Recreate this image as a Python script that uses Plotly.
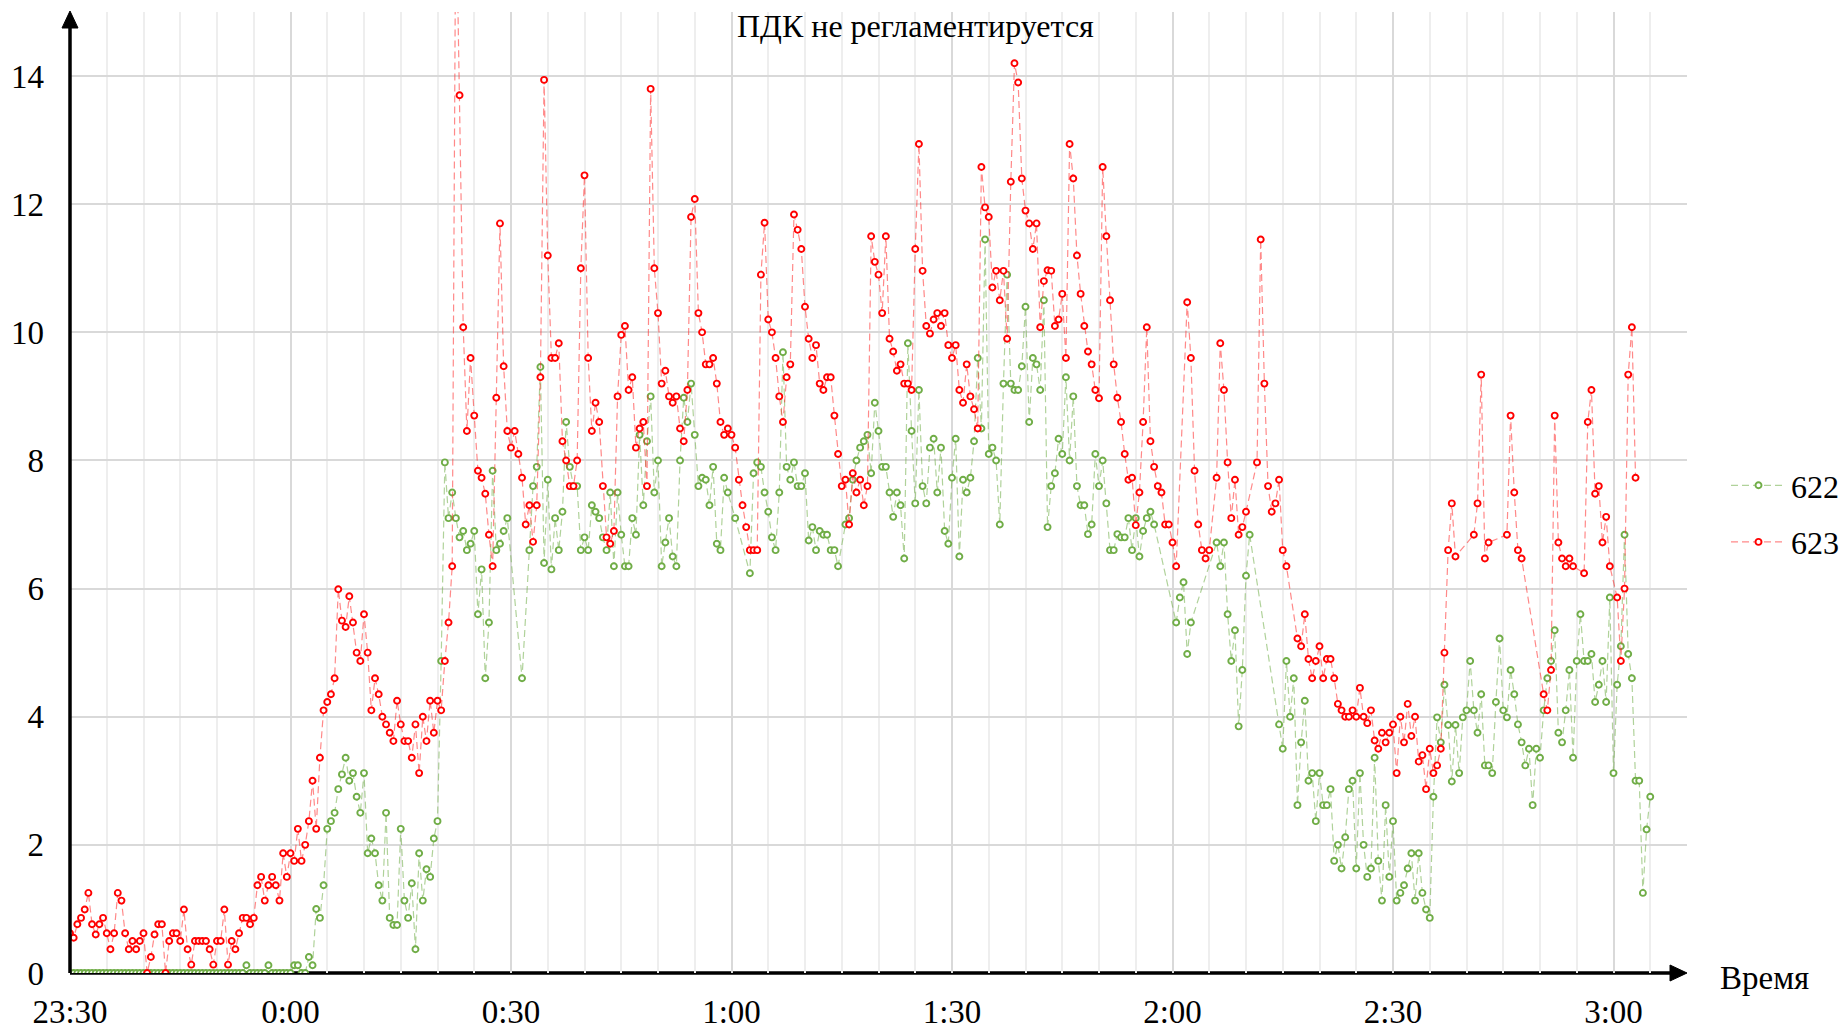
import datetime as dt
import plotly.graph_objects as go

# ---- data: readings every 30 s starting at 23:30 (None = no reading) ----
N = None
start_time = dt.datetime(2024, 1, 1, 23, 30)
step_minutes = 0.5

series_623 = [
    # 23:30
    0.62, 0.55, 0.76, 0.86, 0.99, 1.25, 0.76, 0.6, 0.76, 0.86,
    0.62, 0.37, 0.62, 1.25, 1.13, 0.62, 0.37, 0.5, 0.37, 0.5,
    0.62, 0.0, 0.25, 0.6, 0.76, 0.76, 0.0, 0.5, 0.62, 0.62,
    0.5, 0.99, 0.37, 0.13, 0.5, 0.5, 0.5, 0.5, 0.37, 0.13,
    0.5, 0.5, 0.99, 0.13, 0.5, 0.37, 0.62, 0.86, 0.86, 0.76,
    0.86, 1.37, 1.5, 1.13, 1.37, 1.5, 1.37, 1.13, 1.87, 1.5,
    # 0:00
    1.87, 1.75, 2.25, 1.75, 2.0, 2.37, 3.0, 2.25, 3.36, 4.1,
    4.23, 4.35, 4.6, 5.99, 5.5, 5.4, 5.88, 5.47, 5.0, 4.87,
    5.6, 5.0, 4.1, 4.6, 4.35, 4.0, 3.88, 3.75, 3.62, 4.25,
    3.88, 3.62, 3.62, 3.36, 3.88, 3.12, 4.0, 3.62, 4.25, 3.75,
    4.25, 4.1, 4.87, 5.47, 6.35, 17.0, 13.7, 10.08, 8.46, 9.6,
    8.7, 7.84, 7.73, 7.48, 6.84, 6.35, 8.98, 11.7, 9.47, 8.46,
    # 0:30
    8.2, 8.46, 8.1, 7.73, 7.0, 7.3, 6.73, 7.3, 9.3, 13.94,
    11.2, 9.6, 9.6, 9.83, 8.3, 8.0, 7.6, 7.6, 8.0, 11.0,
    12.45, 9.6, 8.46, 8.9, 8.6, 7.6, 6.8, 6.7, 6.9, 9.0,
    9.96, 10.1, 9.1, 9.3, 8.2, 8.5, 8.6, 7.6, 13.8, 11.0,
    10.3, 9.2, 9.4, 9.0, 8.9, 9.0, 8.5, 8.3, 9.1, 11.8,
    12.08, 10.3, 10.0, 9.5, 9.5, 9.6, 9.2, 8.6, 8.4, 8.5,
    # 1:00
    8.4, 8.2, 7.7, 7.3, 6.96, 6.6, 6.6, 6.6, 10.9, 11.71,
    10.2, 10.0, 9.6, 9.0, 8.6, 9.3, 9.5, 11.84, 11.6, 11.3,
    10.4, 9.9, 9.6, 9.8, 9.2, 9.1, 9.3, 9.3, 8.7, 8.1,
    7.6, 7.7, 7.0, 7.8, 7.5, 7.7, 7.3, 7.6, 11.5, 11.1,
    10.9, 10.3, 11.5, 9.9, 9.7, 9.4, 9.5, 9.2, 9.2, 9.1,
    11.3, 12.94, 10.96, 10.1, 9.98, 10.2, 10.3, 10.1, 10.3, 9.8,
    # 1:30
    9.6, 9.8, 9.1, 8.9, 9.5, 9.0, 8.8, 8.5, 12.58, 11.95,
    11.8, 10.7, 10.96, 10.5, 10.96, 9.9, 12.35, 14.2, 13.9, 12.4,
    11.9, 11.7, 11.3, 11.7, 10.08, 10.8, 10.97, 10.96, 10.1, 10.2,
    10.6, 9.6, 12.94, 12.4, 11.2, 10.6, 10.1, 9.7, 9.5, 9.1,
    8.97, 12.58, 11.5, 10.5, 9.5, 8.98, 8.6, 8.1, 7.7, 7.73,
    6.99, 7.5, 8.6, 10.08, 8.3, 7.9, 7.6, 7.5, 7.0, 7.0,
    # 2:00
    6.72, 6.35, N, N, 10.47, 9.6, 7.84, 7.0, 6.6, 6.47,
    6.6, N, 7.73, 9.83, 9.1, 7.97, 7.1, 7.7, 6.84, 6.96,
    7.2, N, N, 7.97, 11.45, 9.2, 7.6, 7.2, 7.33, 7.7,
    6.6, 6.35, N, N, 5.22, 5.1, 5.6, 4.9, 4.6, 4.87,
    5.1, 4.6, 4.9, 4.9, 4.6, 4.2, 4.1, 4.0, 4.0, 4.1,
    4.0, 4.45, 4.0, 3.9, 4.1, 3.63, 3.5, 3.75, 3.6, 3.75,
    # 2:30
    3.88, 3.12, 4.0, 3.6, 4.2, 3.7, 4.0, 3.3, 3.4, 2.87,
    3.5, 3.12, 3.24, 3.5, 5.0, 6.6, 7.33, 6.5, N, N,
    N, N, 6.84, 7.33, 9.34, 6.47, 6.72, N, N, N,
    N, 6.84, 8.7, 7.5, 6.6, 6.47, N, N, N, N,
    N, 4.35, 4.1, 4.73, 8.7, 6.72, 6.47, 6.35, 6.47, 6.35,
    N, N, 6.24, 8.6, 9.1, 7.48, 7.6, 6.72, 7.12, 6.35,
    # 3:00
    N, 5.86, 4.87, 6.0, 9.34, 10.08, 7.73, N, N, N,
    N, N,
]

series_622 = [
    # 23:30
    0, 0, 0, 0, 0, 0, 0, 0, 0, 0,
    0, 0, 0, 0, 0, 0, 0, 0, 0, 0,
    0, 0, 0, 0, 0, 0, 0, 0, 0, 0,
    0, 0, 0, 0, 0, 0, 0, 0, 0, 0,
    0, 0, 0, 0, 0, 0, 0, 0, 0.12, 0,
    0, 0, 0, 0, 0.12, 0, 0, 0, 0, 0,
    # 0:00
    0, 0.12, 0.12, 0, 0, 0.25, 0.12, 1.0, 0.86, 1.37,
    2.25, 2.37, 2.5, 2.87, 3.1, 3.36, 3.0, 3.12, 2.75, 2.5,
    3.12, 1.87, 2.1, 1.87, 1.37, 1.13, 2.5, 0.86, 0.75, 0.75,
    2.25, 1.13, 0.86, 1.4, 0.37, 1.87, 1.13, 1.62, 1.5, 2.1,
    2.37, 4.87, 7.97, 7.1, 7.5, 7.1, 6.8, 6.9, 6.6, 6.7,
    6.9, 5.6, 6.3, 4.6, 5.47, 7.84, 6.6, 6.7, 6.9, 7.1,
    # 0:30
    N, N, N, 4.6, N, 6.6, 7.6, 7.9, 9.46, 6.4,
    7.7, 6.3, 7.1, 6.6, 7.2, 8.6, 7.9, 7.6, 7.6, 6.6,
    6.8, 6.6, 7.3, 7.2, 7.1, 6.8, 6.6, 7.5, 6.35, 7.5,
    6.84, 6.35, 6.35, 7.1, 6.84, 8.4, 7.3, 8.3, 9.0, 7.5,
    8.0, 6.35, 6.72, 7.1, 6.5, 6.35, 8.0, 8.98, 8.6, 9.2,
    8.4, 7.6, 7.73, 7.7, 7.3, 7.9, 6.7, 6.6, 7.73, 7.5,
    # 1:00
    N, 7.1, N, N, N, 6.24, 7.8, 7.97, 7.9, 7.5,
    7.2, 6.8, 6.6, 7.5, 9.69, 7.9, 7.7, 7.97, 7.6, 7.6,
    7.8, 6.75, 6.96, 6.6, 6.9, 6.84, 6.84, 6.6, 6.6, 6.35,
    N, 7.0, 7.1, 7.7, 8.0, 8.2, 8.3, 8.4, 7.8, 8.9,
    8.46, 7.9, 7.9, 7.5, 7.12, 7.5, 7.3, 6.47, 9.83, 8.46,
    7.33, 9.1, 7.6, 7.33, 8.2, 8.34, 7.5, 8.2, 6.9, 6.7,
    # 1:30
    7.73, 8.34, 6.5, 7.7, 7.5, 7.73, 8.3, 9.6, 8.5, 11.45,
    8.1, 8.2, 8.0, 7.0, 9.2, 10.9, 9.2, 9.1, 9.1, 9.47,
    10.4, 8.6, 9.6, 9.5, 9.1, 10.5, 6.96, 7.6, 7.8, 8.34,
    8.1, 9.3, 8.0, 9.0, 7.6, 7.3, 7.3, 6.85, 7.0, 8.1,
    7.6, 8.0, 7.33, 6.6, 6.6, 6.85, 6.8, 6.8, 7.1, 6.6,
    7.1, 6.5, 6.9, 7.1, 7.2, 7.0, N, N, N, N,
    # 2:00
    N, 5.47, 5.86, 6.1, 4.98, 5.47, N, N, N, N,
    N, N, 6.72, 6.35, 6.72, 5.6, 4.87, 5.35, 3.85, 4.73,
    6.2, 6.84, N, N, N, N, N, N, N, 3.88,
    3.5, 4.87, 4.0, 4.6, 2.62, 3.6, 4.25, 3.0, 3.12, 2.37,
    3.12, 2.62, 2.62, 2.87, 1.75, 2.0, 1.63, 2.12, 2.87, 3.0,
    1.63, 3.12, 2.0, 1.5, 1.63, 3.36, 1.75, 1.13, 2.62, 1.5,
    # 2:30
    2.37, 1.13, 1.25, 1.37, 1.63, 1.87, 1.13, 1.87, 1.25, 0.99,
    0.86, 2.75, 3.99, 3.6, 4.5, 3.87, 2.99, 3.87, 3.12, 3.99,
    4.1, 4.87, 4.1, 3.75, 4.35, 3.24, 3.24, 3.12, 4.23, 5.22,
    4.1, 3.99, 4.73, 4.35, 3.88, 3.6, 3.24, 3.5, 2.62, 3.5,
    3.36, 4.1, 4.6, 4.87, 5.35, 3.75, 3.6, 4.1, 4.73, 3.36,
    4.87, 5.6, 4.87, 4.87, 4.98, 4.23, 4.5, 4.87, 4.23, 5.86,
    # 3:00
    3.12, 4.5, 5.1, 6.84, 4.98, 4.6, 3.0, 3.0, 1.25, 2.24,
    2.75, N,
]

tick_labels = ["23:30", "0:00", "0:30", "1:00", "1:30", "2:00", "2:30", "3:00"]
y_ticks = [0, 2, 4, 6, 8, 10, 12, 14]
series_names = ["622", "623"]
title_text = "ПДК не регламентируется"
x_title = "Время"

# ---- build ----
n = max(len(series_622), len(series_623))
series_622 = series_622 + [None] * (n - len(series_622))
series_623 = series_623 + [None] * (n - len(series_623))
times = [start_time + dt.timedelta(minutes=step_minutes * i) for i in range(n)]
tick_vals = [start_time + dt.timedelta(minutes=30 * k) for k in range(len(tick_labels))]
x_end = start_time + dt.timedelta(minutes=220)

FONT = "Liberation Serif"
W, H = 1847, 1029
L, R, T, B = 70, 160, 12, 56
pw, ph = W - L - R, H - T - B

fig = go.Figure()
styles = [
    ("rgba(112,173,71,0.55)", "#70ad47"),
    ("rgba(255,40,40,0.55)", "#ff0000"),
]
for name, ys, (lc, mc) in zip(series_names, [series_622, series_623], styles):
    fig.add_trace(go.Scatter(
        x=times, y=ys, name=name, legendgroup=name,
        mode="lines+markers", connectgaps=True,
        line=dict(color=lc, width=1.2, dash="7px,4px"),
        marker=dict(symbol="circle", size=6, color="white",
                    line=dict(color=mc, width=1.9)),
    ))

fig.update_layout(
    template="none",
    width=W, height=H,
    margin=dict(l=L, r=R, t=T, b=B, autoexpand=False),
    paper_bgcolor="white", plot_bgcolor="white",
    font=dict(family=FONT, size=32, color="black"),
    showlegend=True,
    legend=dict(x=(1726 - L) / pw, xanchor="left", y=(973 - 514) / ph, yanchor="middle",
                font=dict(family=FONT, size=32, color="black"),
                tracegroupgap=12, bgcolor="rgba(0,0,0,0)", itemwidth=55),
)
fig.update_xaxes(
    type="date", range=[start_time, x_end],
    tickmode="array", tickvals=tick_vals, ticktext=tick_labels,
    showgrid=True, gridcolor="#d9d9d9", gridwidth=2,
    minor=dict(dtick=5 * 60 * 1000, tick0=start_time, showgrid=True,
               gridcolor="#eeeeee", gridwidth=2, ticks=""),
    ticks="", showline=False, zeroline=False,
    tickfont=dict(family=FONT, size=33, color="black"),
    ticklabelstandoff=16,
)
fig.update_yaxes(
    range=[0, 15], tickmode="array", tickvals=y_ticks,
    showgrid=True, gridcolor="#d9d9d9", gridwidth=2,
    ticks="", showline=False, zeroline=False,
    tickfont=dict(family=FONT, size=33, color="black"),
    ticklabelstandoff=25,
)

# axes drawn as arrows
px_x = 1.0 / pw
px_y = 1.0 / ph
fig.add_shape(type="line", xref="paper", yref="paper", x0=0, x1=0, y0=0, y1=1 - 10 * px_y,
              line=dict(color="black", width=3.5), layer="above")
fig.add_shape(type="line", xref="paper", yref="paper", x0=0, x1=1 - 10 * px_x, y0=0, y1=0,
              line=dict(color="black", width=3.5), layer="between")
fig.add_shape(type="path", xref="paper", yref="paper",
              path=f"M {-8*px_x} {1-16*px_y} L 0 {1+1*px_y} L {8*px_x} {1-16*px_y} Z",
              fillcolor="black", line=dict(color="black", width=1), layer="above")
fig.add_shape(type="path", xref="paper", yref="paper",
              path=f"M {1-17*px_x} {8*px_y} L 1 0 L {1-17*px_x} {-8*px_y} Z",
              fillcolor="black", line=dict(color="black", width=1), layer="above")

fig.add_annotation(text=title_text, xref="paper", yref="paper",
                   x=(915 - L) / pw, y=(973 - 26) / ph, xanchor="center", yanchor="middle",
                   showarrow=False, font=dict(family=FONT, size=32, color="black"))
fig.add_annotation(text=x_title, xref="paper", yref="paper",
                   x=(1764 - L) / pw, y=(973 - 978) / ph, xanchor="center", yanchor="middle",
                   showarrow=False, font=dict(family=FONT, size=33, color="black"))

fig.write_html("out.html", config={"displayModeBar": False},
               post_script="document.body.style.margin='0px';document.body.style.overflow='hidden';")
